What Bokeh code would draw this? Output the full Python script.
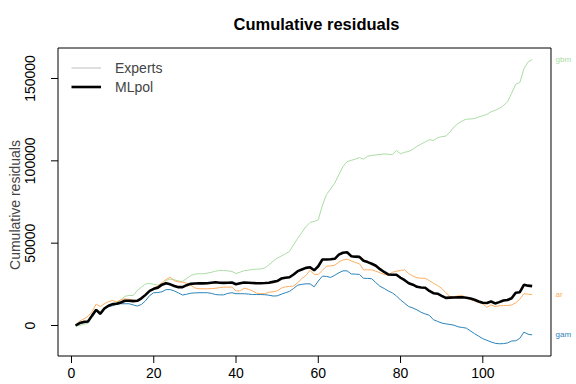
from bokeh.plotting import figure
from bokeh.models import (Range1d, FixedTicker, NumeralTickFormatter, Legend,
                          LegendItem, ColumnDataSource, Title)
from bokeh.core.properties import value
from bokeh.embed import file_html
from bokeh.resources import INLINE

# ---------------- data ----------------
idx = list(range(1, 113))

mlpol = [0, 1500, 2200, 2400, 6000, 9500, 7100, 10300, 12000, 13000,
         13200, 14000, 15000, 15000, 14800, 15000, 16500, 18600, 21000, 22300,
         23000, 24800, 25700, 25000, 24000, 23300, 23300, 24500, 25300, 25500,
         25700, 25600, 25700, 26000, 26300, 26000, 25900, 26000, 26100, 25100,
         25600, 26100, 26000, 25800, 25700, 25700, 25800, 26000, 26500, 27000,
         28500, 29000, 29300, 31000, 33000, 34000, 35000, 35400, 33500, 36000,
         40100, 40100, 40200, 40500, 43000, 44200, 44500, 42100, 41800, 41700,
         39300, 38500, 37500, 36300, 34200, 32500, 31000, 30800, 30800, 29000,
         27500, 25700, 24800, 23500, 23100, 22900, 21000, 19600, 19300, 18000,
         16800, 16900, 17000, 17100, 17200, 16900, 16400, 15600, 14600, 13800,
         13700, 14600, 13400, 14200, 15200, 15500, 16500, 19900, 20200, 24700,
         24200, 23900]

ar = [300, 2700, 4000, 5500, 8500, 13000, 11500, 13200, 14500, 15200,
      14300, 15600, 16200, 15900, 15500, 15200, 17000, 19000, 21000, 22800,
      24000, 26000, 28000, 29300, 27200, 26500, 26300, 25700, 24500, 22800,
      22300, 22300, 22300, 22400, 22600, 23000, 23300, 23300, 23300, 21000,
      21000, 22700, 22000, 21000, 19600, 19400, 19300, 20200, 20500, 21000,
      22700, 23500, 23700, 24000, 26000, 28500, 30400, 33500, 31000, 31000,
      33500, 36000, 36200, 36600, 38500, 39800, 40300, 39200, 38300, 37500,
      33800, 33800, 33800, 33000, 32000, 31000, 30600, 32300, 33000, 33400,
      33800, 31500, 30000, 29000, 28700, 28700, 27200, 25700, 24300, 22500,
      20000, 17600, 17600, 17900, 18200, 16800, 15800, 14800, 14000, 13000,
      11100, 12500, 11500, 12000, 12100, 12100, 12500, 13800, 16000, 19300,
      19000, 18800]

gam = [0, 1300, 2000, 2300, 5500, 9000, 6500, 10000, 11500, 12000,
       13000, 13200, 13200, 13200, 12500, 11800, 12800, 15000, 18200, 19900,
       20000, 20500, 21800, 21800, 21000, 19800, 18500, 19000, 19600, 19800,
       19900, 19900, 19900, 19500, 18800, 18600, 18600, 19500, 19900, 19300,
       19300, 19300, 19100, 18800, 18800, 18800, 18700, 18400, 17900, 18000,
       19000, 19900, 20700, 22500, 24500, 25000, 25300, 25300, 23500, 27000,
       30000, 29800, 29200, 30500, 32000, 33200, 33200, 31300, 31200, 31000,
       28700, 28600, 28400, 26000, 23800, 22500, 21000, 19800, 18000, 15500,
       13500, 11500, 10600, 9500, 8000, 7000, 6200, 3500, 2500, 1500,
       1000, 600, 200, -800, -1200, -1600, -3300, -5000, -6500, -8000,
       -9000, -10000, -10800, -11100, -11000, -10600, -9400, -9300, -7800, -4000,
       -5300, -5700]

gbm = [-300, 0, 800, 1300, 5000, 9500, 8500, 11000, 12500, 13300,
       14000, 15500, 17800, 18200, 18200, 21300, 23300, 25200, 25600, 25000,
       24600, 24300, 27300, 28200, 27800, 27000, 26800, 28500, 30300, 31200,
       31400, 31400, 31800, 32300, 33000, 33400, 33400, 33200, 32800, 31600,
       32400, 33300, 33600, 34000, 34200, 34300, 35000, 36800, 39000, 40900,
       42200, 43500, 45000, 49000, 53000, 56500, 60000, 62600, 63200, 64200,
       73000, 79500, 83000, 86500, 91500, 96500, 99500, 100300, 101000, 102000,
       101000, 102800, 103300, 103600, 103800, 104200, 104000, 103800, 106300, 104300,
       105200, 105700, 107000, 108800, 110200, 111500, 112800, 112400, 114000, 114700,
       115000, 117500, 120500, 122700, 124300, 125300, 125400, 125700, 126600, 127400,
       128200, 129800, 130700, 131800, 133500, 135800, 141000, 146500, 147500, 156000,
       160000, 161600]

expert_names = ["gbm", "ar", "gam"]
expert_values = [gbm, ar, gam]
expert_colors = ["#ABDDA4", "#FDAE61", "#2B83BA"]

x_ticks = [0, 20, 40, 60, 80, 100]
y_ticks = [0, 50000, 100000, 150000]

FONT = "Liberation Sans"

# plot-region (box) limits; the frame is larger so that it also holds the
# tick marks (left/bottom) and the end-of-line labels (right)
box_x_lo, box_x_hi = -3.282, 116.58
box_y_lo, box_y_hi = -18522, 168519
frame_x_lo, frame_x_hi = -5.349, 122.78
frame_y_lo, frame_y_hi = -23076, 169430
tick_x_end = -4.984      # end of the y-axis tick marks (7 px out of the box)
tick_y_end = -22773      # end of the x-axis tick marks (7 px out of the box)
x_lab = 117.68

p = figure(width=576, height=384, output_backend="svg", toolbar_location=None,
           x_range=Range1d(frame_x_lo, frame_x_hi),
           y_range=Range1d(frame_y_lo, frame_y_hi),
           min_border_left=49, min_border_right=0, min_border_top=46,
           min_border_bottom=21)

p.background_fill_color = "white"
p.border_fill_color = "white"
p.outline_line_color = None
p.grid.visible = False

# box around the plot region
p.quad(left=[box_x_lo], right=[box_x_hi], bottom=[box_y_lo], top=[box_y_hi],
       fill_color=None, line_color="black", line_width=1)

# tick marks, drawn from the tick arrays
p.segment(x0=x_ticks, x1=x_ticks, y0=[box_y_lo] * len(x_ticks),
          y1=[tick_y_end] * len(x_ticks), line_color="black", line_width=1)
p.segment(x0=[box_x_lo] * len(y_ticks), x1=[tick_x_end] * len(y_ticks),
          y0=y_ticks, y1=y_ticks, line_color="black", line_width=1)

# thin spacer between frame and title
p.add_layout(Title(text=" ", text_font_size="2px", standoff=5), "above")

p.title.text = "Cumulative residuals"
p.title.align = "left"
p.title.offset = 184
p.title.text_font = FONT
p.title.text_font_size = "16.5px"
p.title.text_font_style = "bold"
p.title.text_color = "black"

for ax in (p.xaxis[0], p.yaxis[0]):
    ax.axis_line_color = None
    ax.major_tick_in = 0
    ax.major_tick_out = 0
    ax.major_tick_line_color = None
    ax.minor_tick_line_color = None
    ax.major_label_text_font = FONT
    ax.major_label_text_font_size = "14px"
    ax.major_label_text_color = "black"

p.xaxis[0].ticker = FixedTicker(ticks=x_ticks)
p.xaxis[0].major_label_standoff = 4
p.yaxis[0].ticker = FixedTicker(ticks=y_ticks)
p.yaxis[0].formatter = NumeralTickFormatter(format="0")
p.yaxis[0].major_label_orientation = "parallel"
p.yaxis[0].major_label_standoff = 14
p.yaxis[0].axis_label = "Cumulative residuals"
p.yaxis[0].axis_label_text_font = FONT
p.yaxis[0].axis_label_text_font_size = "14px"
p.yaxis[0].axis_label_text_font_style = "normal"
p.yaxis[0].axis_label_standoff = 0

for name, vals, col in zip(expert_names, expert_values, expert_colors):
    p.line(idx, vals, line_color=col, line_width=1)

ml = p.line(idx, mlpol, line_color="black", line_width=2.6)

dummy = p.line(x="x", y="y",
               source=ColumnDataSource(dict(x=[float("nan")], y=[float("nan")])),
               line_color="#BEBEBE", line_width=1)

legend = Legend(items=[LegendItem(label="Experts", renderers=[dummy]),
                       LegendItem(label="MLpol", renderers=[ml])],
                location=(22, 267), border_line_color=None,
                background_fill_alpha=0, margin=0, padding=0,
                glyph_width=30, glyph_height=19, label_height=19,
                label_standoff=14, spacing=0,
                label_text_font=FONT, label_text_font_size="14px")
p.add_layout(legend)

end_src = ColumnDataSource(dict(
    x=[x_lab] * len(expert_names),
    y=[v[-1] for v in expert_values],
    text=expert_names,
    color=expert_colors,
))
p.text(x="x", y="y", text="text", text_color="color", source=end_src,
       text_font=value(FONT), text_font_size="8px",
       text_baseline="middle", text_align="left")

open("out.html", "w").write(file_html(p, INLINE))
